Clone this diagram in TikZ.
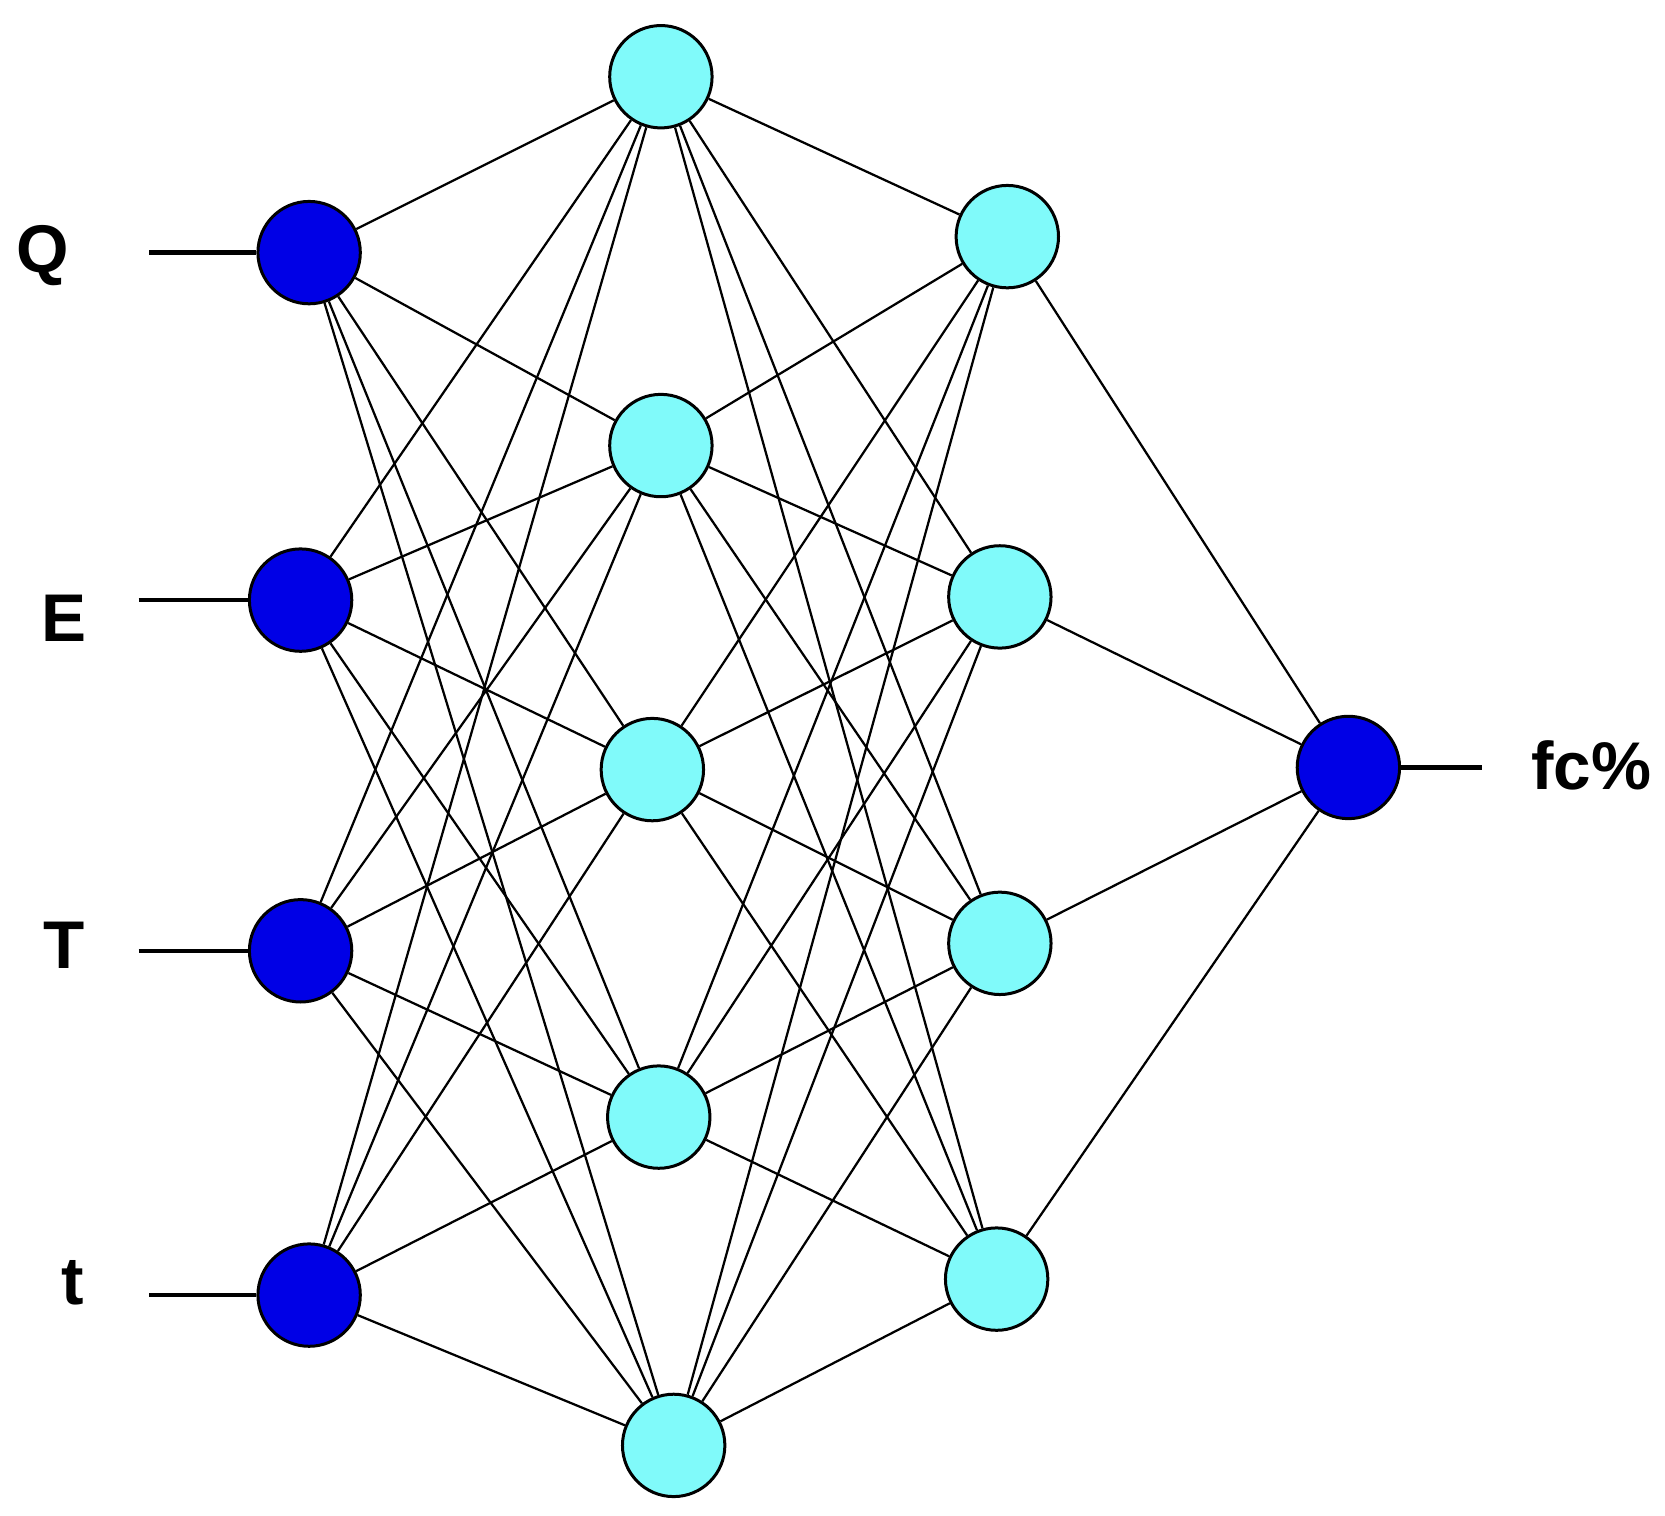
\documentclass[tikz,border=0pt]{standalone}
\usepackage{fontspec}
\setmainfont{Liberation Sans}
\definecolor{hcyan}{RGB}{128,250,250}
\definecolor{iblue}{RGB}{0,0,230}
\begin{document}
\begin{tikzpicture}[x=0.01cm,y=-0.01cm,
  inn/.style={circle,draw=black,fill=iblue,minimum size=0.96cm,inner sep=0pt,line width=0.8pt},
  hid/.style={circle,draw=black,fill=hcyan,minimum size=0.96cm,inner sep=0pt,line width=0.8pt},
  lbl/.style={font=\fontsize{18}{20}\selectfont\bfseries},
  w/.style={line width=0.6pt}]
\useasboundingbox (0,0) rectangle (1562,1422);
\foreach \n/\x/\y in {i1/290/237,i2/282/563,i3/282/892,i4/290/1215}{\node[inn] (\n) at (\x,\y) {};}
\foreach \n/\x/\y in {a1/620/72,a2/620/418,a3/612/722,a4/618/1048,a5/632/1356}{\node[hid] (\n) at (\x,\y) {};}
\foreach \n/\x/\y in {b1/945/222,b2/938/560,b3/938/885,b4/935/1200}{\node[hid] (\n) at (\x,\y) {};}
\node[inn] (o) at (1265,720) {};
\foreach \i in {1,...,4}{\foreach \j in {1,...,5}{\draw[w] (i\i) -- (a\j);}}
\foreach \i in {1,...,5}{\foreach \j in {1,...,4}{\draw[w] (a\i) -- (b\j);}}
\foreach \j in {1,...,4}{\draw[w] (b\j) -- (o);}
\coordinate (c1) at (140,237); \coordinate (c2) at (130,563);
\coordinate (c3) at (130,892); \coordinate (c4) at (140,1215);
\coordinate (co) at (1390,720);
\foreach \i in {1,...,4}{\draw[line width=1.2pt] (c\i) -- (i\i);}
\draw[line width=1.2pt] (o) -- (co);
\node[lbl] (lQ) at (40,240) {Q};
\node[lbl] (lE) at (60,580) {E};
\node[lbl] (lT) at (60,887) {T};
\node[lbl] (lt) at (68,1203) {t};
\node[lbl] (lo) at (1493,718) {fc\%};
\end{tikzpicture}
\end{document}
